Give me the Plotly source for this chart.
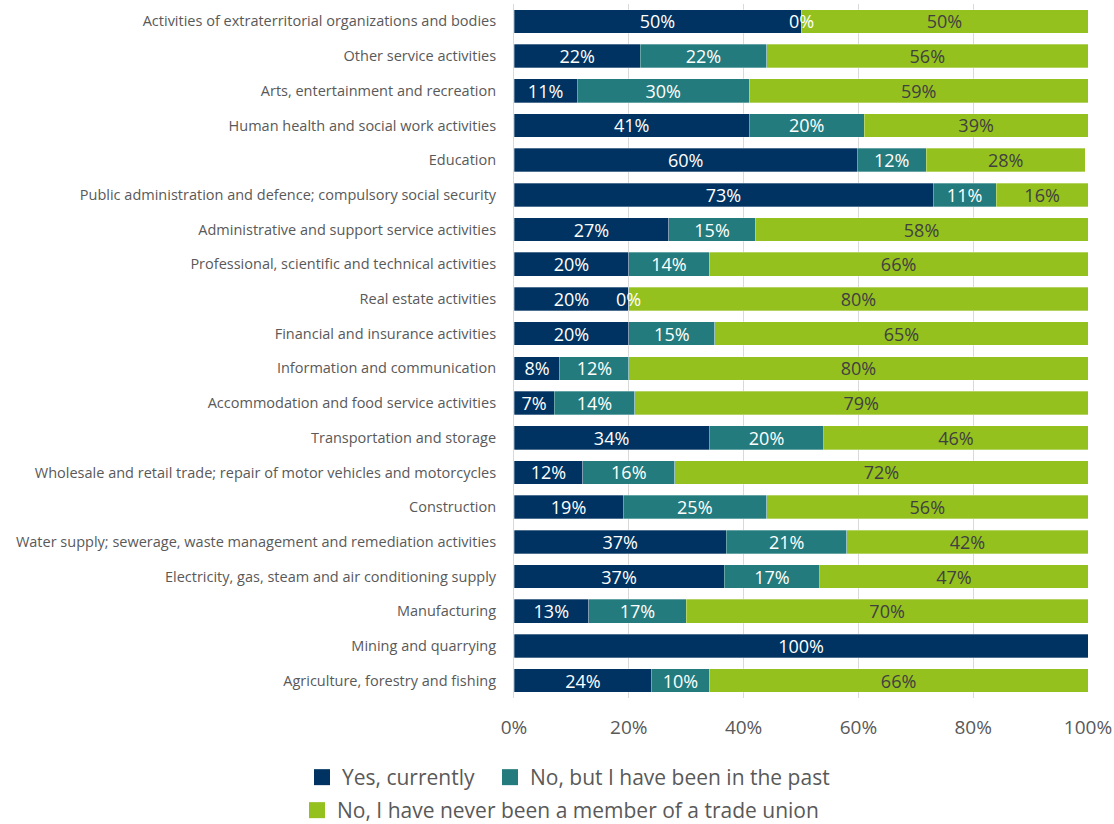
import plotly.graph_objects as go

categories = [
    "Activities of extraterritorial organizations and bodies",
    "Other service activities",
    "Arts, entertainment and recreation",
    "Human health and social work activities",
    "Education",
    "Public administration and defence; compulsory social security",
    "Administrative and support service activities",
    "Professional, scientific and technical activities",
    "Real estate activities",
    "Financial and insurance activities",
    "Information and communication",
    "Accommodation and food service activities",
    "Transportation and storage",
    "Wholesale and retail trade; repair of motor vehicles and motorcycles",
    "Construction",
    "Water supply; sewerage, waste management and remediation activities",
    "Electricity, gas, steam and air conditioning supply",
    "Manufacturing",
    "Mining and quarrying",
    "Agriculture, forestry and fishing",
]

yes_currently = [50, 22, 11, 41, 59.8, 73, 27, 20, 20, 20, 8, 7, 34, 12, 19, 37, 36.6, 13, 100, 24]
past_member = [0, 22, 30, 20, 12, 11, 15, 14, 0, 15, 12, 14, 20, 16, 25, 21, 16.7, 17, None, 10]
never_member = [50, 56, 59, 39, 27.7, 16, 58, 66, 80, 65, 80, 79, 46, 72, 56, 42, 46.7, 70, None, 66]

series_names = [
    "Yes, currently",
    "No, but I have been in the past",
    "No, I have never been a member of a trade union",
]
colors = ["#003361", "#247b7d", "#95c11f"]
text_colors = ["#ffffff", "#ffffff", "#404040"]
legend_ids = ["legend", "legend2", "legend3"]

FONT = "Open Sans"
fig = go.Figure()
for vals, name, col, tcol in zip([yes_currently, past_member, never_member],
                                 series_names, colors, text_colors):
    fig.add_trace(go.Bar(
        y=categories, x=vals, name=name, orientation="h", showlegend=False,
        marker=dict(color=col, line=dict(color="rgba(255,255,255,0.6)", width=0.5)),
        texttemplate="%{x:.0f}%", textposition="inside", insidetextanchor="middle",
        textangle=0, constraintext="none",
        textfont=dict(family=FONT, size=18, color=tcol),
        hoverinfo="skip",
    ))

# legend entries with larger square swatches (one legend box per entry)
for name, col, lg in zip(series_names, colors, legend_ids):
    fig.add_trace(go.Scatter(
        x=[None], y=[None], mode="markers", name=name, legend=lg,
        marker=dict(symbol="square", size=16, color=col), hoverinfo="skip",
    ))

# zero-valued segments still carry a label in the original
for cat, y1, y2 in zip(categories, yes_currently, past_member):
    if y2 == 0:
        fig.add_annotation(x=y1 + y2, y=cat, text="0%", showarrow=False,
                           font=dict(family=FONT, size=18, color="#ffffff"),
                           xanchor="center", yanchor="middle")

legend_font = dict(family=FONT, size=21, color="#595959")
W, H = 1114, 824
def lg(px_left, px_top):
    return dict(orientation="h", xref="container", yref="container",
                x=px_left / W, xanchor="left", y=1 - px_top / H, yanchor="top",
                font=legend_font, bgcolor="rgba(0,0,0,0)")

fig.update_layout(
    barmode="stack",
    bargap=0.32,
    width=W, height=H,
    margin=dict(l=514, r=26, t=4, b=126),
    plot_bgcolor="#ffffff", paper_bgcolor="#ffffff",
    font=dict(family=FONT, color="#595959"),
    legend=lg(302, 757),
    legend2=lg(490, 757),
    legend3=lg(297, 790),
    xaxis=dict(range=[0, 100], tickvals=[0, 20, 40, 60, 80, 100],
               ticktext=["0%", "20%", "40%", "60%", "80%", "100%"],
               showgrid=True, gridcolor="#d9d9d9", gridwidth=1, zeroline=False,
               showline=False, ticks="", ticklabelstandoff=16, automargin=False,
               tickfont=dict(family=FONT, size=19, color="#595959")),
    yaxis=dict(autorange="reversed", showline=True, linecolor="#d9d9d9", linewidth=1,
               ticks="", ticklabelstandoff=14, automargin=False,
               tickfont=dict(family=FONT, size=14.5, color="#595959")),
)

fig.write_html("out.html")
